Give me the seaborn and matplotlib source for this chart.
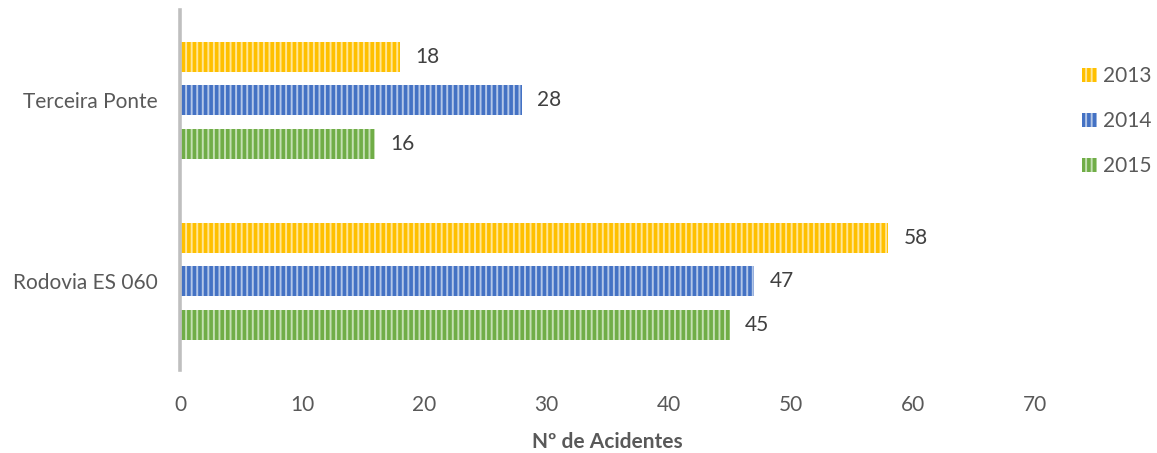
import pandas as pd
import numpy as np
import matplotlib.pyplot as plt
import seaborn as sns

# data
roads = ["Terceira Ponte", "Rodovia ES 060"]
years = ["2013", "2014", "2015"]
acc_2013 = [18, 58]
acc_2014 = [28, 47]
acc_2015 = [16, 45]

colors = ["#FFC000", "#4472C4", "#70AD47"]
light = ["#FFE699", "#B4C7E7", "#C5E0B4"]

df = pd.DataFrame({
    "Via": roads * 3,
    "Ano": [y for y in years for _ in roads],
    "Acidentes": acc_2013 + acc_2014 + acc_2015,
})

sns.set_style("white")
plt.rcParams["font.family"] = ["Lato", "DejaVu Sans"]
plt.rcParams["hatch.linewidth"] = 1.4

fig = plt.figure(figsize=(11.57, 4.53), dpi=100)
ax = fig.add_axes([0.1556, 0.183, 0.739, 0.795])

sns.barplot(data=df, y="Via", x="Acidentes", hue="Ano", order=roads,
            hue_order=years, palette=colors, saturation=1, orient="h",
            width=0.72, gap=0.31, ax=ax, legend=False)

# striped fill: hatch lines drawn in a lighter tint
for cont, lc in zip(ax.containers, light):
    for bar in cont:
        bar.set_edgecolor(lc)
        bar.set_hatch("|||")
        bar.set_linewidth(0)
    ax.bar_label(cont, padding=11, fontsize=15, color="#404040")

ax.set_xlim(0, 70)
ax.set_ylim(1.49, -0.5)
ax.set_xticks(range(0, 71, 10))
ax.tick_params(axis="both", length=0, labelsize=15, labelcolor="#595959")
ax.tick_params(axis="y", pad=16)
ax.tick_params(axis="x", pad=18)
ax.set_ylabel("")
ax.set_xlabel("Nº de Acidentes", fontsize=15, fontweight="bold",
              color="#595959", labelpad=12)

for s in ["top", "right", "bottom"]:
    ax.spines[s].set_visible(False)
ax.spines["left"].set_color("#BFBFBF")
ax.spines["left"].set_linewidth(2.6)

handles = [plt.Rectangle((0, 0), 1, 1, facecolor=c, edgecolor=lc, hatch="|||", linewidth=0)
           for c, lc in zip(colors, light)]
fig.legend(handles, years, loc="upper left", bbox_to_anchor=(0.919, 0.895),
           frameon=False, fontsize=15, labelcolor="#595959",
           handlelength=0.7, handleheight=0.7, handletextpad=0.3, labelspacing=1.2)

plt.savefig("out.png", dpi=100)
